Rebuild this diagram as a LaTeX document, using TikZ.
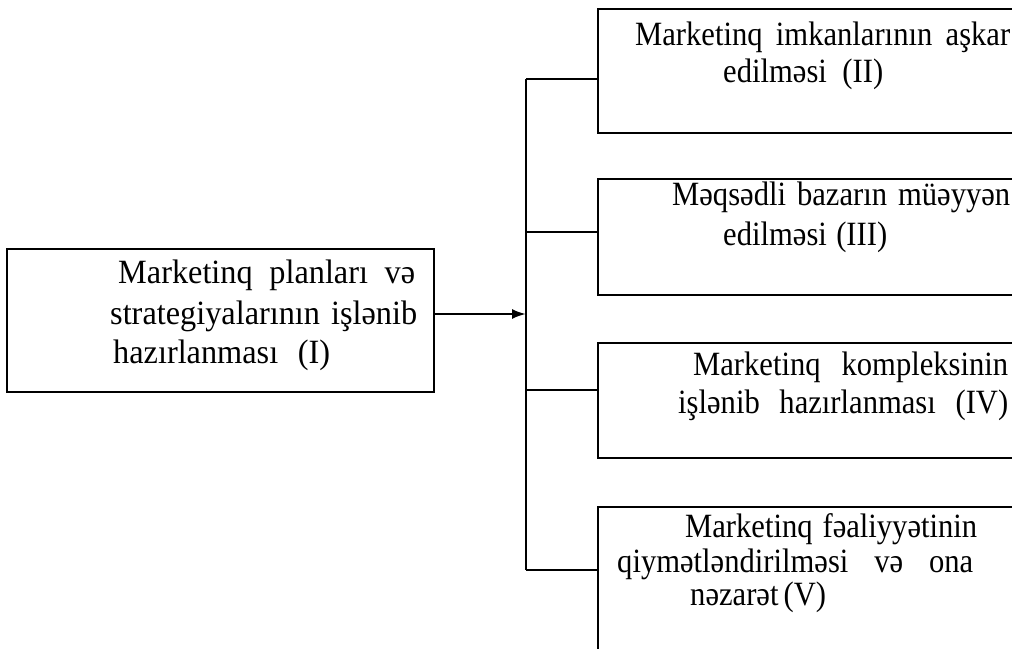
\documentclass[tikz,border=0pt]{standalone}
\usepackage{fontspec}
\setmainfont{Liberation Serif}
% slightly narrowed serif faces for the box labels
\newfontfamily\boxfont[FakeStretch=0.90]{Liberation Serif}
\newfontfamily\leftfont[FakeStretch=0.95]{Liberation Serif}
\usetikzlibrary{arrows.meta}
% one justified label line of a given width
\newcommand\fitline[2]{\makebox[#1][s]{#2}}

\begin{document}
\begin{tikzpicture}[x=1pt,y=-1pt,
  frame/.style={draw=black, line width=2pt, inner sep=0pt, anchor=north west},
  link/.style={draw=black, line width=1.6pt},
  lbl/.style={anchor=base west, inner sep=0pt, font=\boxfont\fontsize{34}{40}\selectfont},
  lbll/.style={anchor=base west, inner sep=0pt, font=\leftfont\fontsize{34}{40}\selectfont}]

\useasboundingbox (0,0) rectangle (1012,648);
\clip (0,0) rectangle (1012,648);

% boxes
\node[frame, minimum width=427pt, minimum height=143pt] (b1) at (6,248) {};
\node[frame, minimum width=450pt, minimum height=124pt] (b2) at (597,8) {};
\node[frame, minimum width=450pt, minimum height=116pt] (b3) at (597,178) {};
\node[frame, minimum width=450pt, minimum height=115pt] (b4) at (597,342) {};
\node[frame, minimum width=450pt, minimum height=200pt] (b5) at (597,506) {};

% labels
\node[lbll] (t1a) at (118,283) {\fitline{297pt}{Marketinq planları və}};
\node[lbll] (t1b) at (110,324) {\fitline{307pt}{strategiyalarının işlənib}};
\node[lbll] (t1c) at (113,363) {\fitline{217pt}{hazırlanması (I)}};

\node[lbl] (t2a) at (635,45) {\fitline{375pt}{Marketinq imkanlarının aşkar}};
\node[lbl] (t2b) at (723,82) {\fitline{160pt}{edilməsi (II)}};

\node[lbl] (t3a) at (672,205) {\fitline{338pt}{Məqsədli bazarın müəyyən}};
\node[lbl] (t3b) at (723,245) {\fitline{164pt}{edilməsi (III)}};

\node[lbl] (t4a) at (693,375) {\fitline{315pt}{Marketinq kompleksinin}};
\node[lbl] (t4b) at (678,413) {\fitline{330pt}{işlənib hazırlanması (IV)}};

\node[lbl] (t5a) at (685,537) {\fitline{292pt}{Marketinq fəaliyyətinin}};
\node[lbl] (t5b) at (617,572) {\fitline{356pt}{qiymətləndirilməsi və ona}};
\node[lbl] (t5c) at (690,605) {\fitline{134pt}{nəzarət (V)}};

% bus junctions
\coordinate (j1) at (526,314);
\coordinate (j2) at (526,79);
\coordinate (j3) at (526,232);
\coordinate (j4) at (526,390);
\coordinate (j5) at (526,570);

% connectors
\draw[link, line width=2.2pt, -{Latex[length=14pt,width=10pt]}] (b1.east |- j1) -- (j1);
\draw[link] (j2) -- (j5);
\draw[link] (j2) -- (j2 -| b2.west);
\draw[link] (j3) -- (j3 -| b3.west);
\draw[link] (j4) -- (j4 -| b4.west);
\draw[link] (j5) -- (j5 -| b5.west);
\end{tikzpicture}
\end{document}
